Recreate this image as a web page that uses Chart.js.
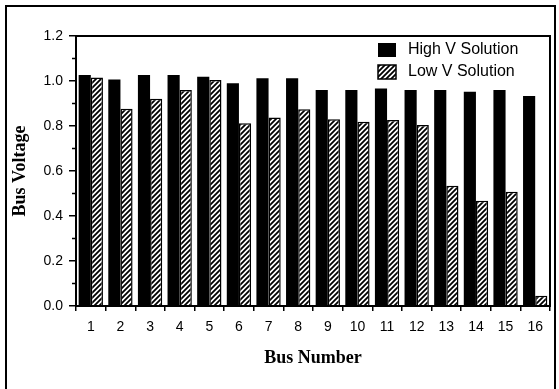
<!DOCTYPE html>
<html>
<head>
<meta charset="utf-8">
<script src="https://cdn.jsdelivr.net/npm/chart.js@4"></script>
<style>
  html, body { margin: 0; padding: 0; background: #fff; }
  #wrap { width: 559px; height: 389px; }
</style>
</head>
<body>
<div id="wrap"><canvas id="mychart" width="559" height="389"></canvas></div>
<script>
// data
const busNumbers = ["1", "2", "3", "4", "5", "6", "7", "8", "9", "10", "11", "12", "13", "14", "15", "16"];
const highV = [1.027, 1.007, 1.027, 1.027, 1.019, 0.99, 1.012, 1.012, 0.96, 0.96, 0.967, 0.96, 0.96, 0.952, 0.96, 0.933];
const lowV = [1.016, 0.877, 0.921, 0.96, 1.004, 0.812, 0.838, 0.874, 0.83, 0.819, 0.827, 0.804, 0.535, 0.468, 0.508, 0.046];
const seriesNames = ["High V Solution", "Low V Solution"];
const yTicks = [0, 0.2, 0.4, 0.6, 0.8, 1.0, 1.2];
const yMinorTicks = [0.1, 0.3, 0.5, 0.7, 0.9, 1.1];

// hatch pattern for the low V bars
function makeHatch() {
  const c = document.createElement("canvas");
  c.width = 5;
  c.height = 5;
  const g = c.getContext("2d");
  g.fillStyle = "#fff";
  g.fillRect(0, 0, 5, 5);
  g.strokeStyle = "#000";
  g.lineWidth = 1.8;
  g.beginPath();
  g.moveTo(-1, 6); g.lineTo(6, -1);
  g.moveTo(-1, 1); g.lineTo(1, -1);
  g.moveTo(4, 6); g.lineTo(6, 4);
  g.stroke();
  return g.createPattern(c, "repeat");
}
const hatch = makeHatch();

const tickFont = { family: "'Liberation Sans', Arial, sans-serif", size: 14 };
const titleFont = { family: "'Liberation Serif', 'Times New Roman', serif", size: 18, weight: "bold" };

// frame, minor ticks and legend
const extras = {
  id: "extras",
  afterDraw(chart) {
    const ctx = chart.ctx;
    const a = chart.chartArea;
    const y = chart.scales.y;
    ctx.save();
    ctx.strokeStyle = "#000";
    // outer frame
    ctx.lineWidth = 2;
    ctx.beginPath();
    ctx.moveTo(6, 389); ctx.lineTo(6, 6); ctx.lineTo(555, 6); ctx.lineTo(555, 389);
    ctx.stroke();
    // plot box
    ctx.strokeRect(a.left, a.top, a.right - a.left, a.bottom - a.top);
    // minor ticks
    ctx.lineWidth = 1.5;
    ctx.beginPath();
    yMinorTicks.forEach(v => {
      const py = y.getPixelForValue(v);
      ctx.moveTo(a.left - 4, py);
      ctx.lineTo(a.left, py);
    });
    ctx.stroke();
    // legend
    const ds = chart.data.datasets;
    ctx.font = "16px 'Liberation Sans', Arial, sans-serif";
    ctx.textBaseline = "middle";
    ds.forEach((d, i) => {
      const bx = 378, by = 43 + i * 22;
      ctx.fillStyle = d.backgroundColor;
      ctx.fillRect(bx, by, 18, 14);
      if (d.borderWidth) {
        ctx.lineWidth = 1.5;
        ctx.strokeRect(bx, by, 18, 14);
      }
      ctx.fillStyle = "#000";
      ctx.fillText(d.label, 408, by + 7);
    });
    ctx.restore();
  }
};

const ctx = document.getElementById("mychart");

const data = {
  labels: busNumbers,
  datasets: [
    {
      label: seriesNames[0],
      data: highV,
      backgroundColor: "#000",
      borderWidth: 0,
      categoryPercentage: 0.82,
      barPercentage: 1.0,
    },
    {
      label: seriesNames[1],
      data: lowV,
      backgroundColor: hatch,
      borderColor: "#000",
      borderWidth: 1.5,
      categoryPercentage: 0.82,
      barPercentage: 1.0,
    },
  ],
};

const config = {
  type: "bar",
  data: data,
  options: {
    responsive: false,
    animation: false,
    layout: { padding: { left: 0, top: 36, right: 9, bottom: 0 } },
    plugins: {
      legend: { display: false },
      tooltip: { enabled: false },
    },
    scales: {
      x: {
        afterFit: (s) => { s.height = 83; },
        grid: { display: true, drawOnChartArea: false, drawTicks: true, tickLength: 5, color: "#000", lineWidth: 1.5 },
        border: { display: true, color: "#000", width: 2 },
        ticks: { color: "#000", font: tickFont, padding: 8, maxRotation: 0, autoSkip: false },
        title: { display: true, text: "Bus Number", color: "#000", font: titleFont, padding: { top: 0, bottom: 20 } },
      },
      y: {
        min: 0,
        max: 1.2,
        afterFit: (s) => { s.width = 76; },
        afterBuildTicks: (s) => { s.ticks = yTicks.map(v => ({ value: v })); },
        grid: { display: true, drawOnChartArea: false, drawTicks: true, tickLength: 7, color: "#000", lineWidth: 1.5 },
        border: { display: true, color: "#000", width: 2 },
        ticks: { color: "#000", font: tickFont, padding: 6, callback: (v) => Number(v).toFixed(1) },
        title: { display: true, text: "Bus Voltage", color: "#000", font: titleFont, padding: { top: 10, bottom: 0 } },
      },
    },
  },
  plugins: [extras],
};

new Chart(ctx, config);
</script>
</body>
</html>
